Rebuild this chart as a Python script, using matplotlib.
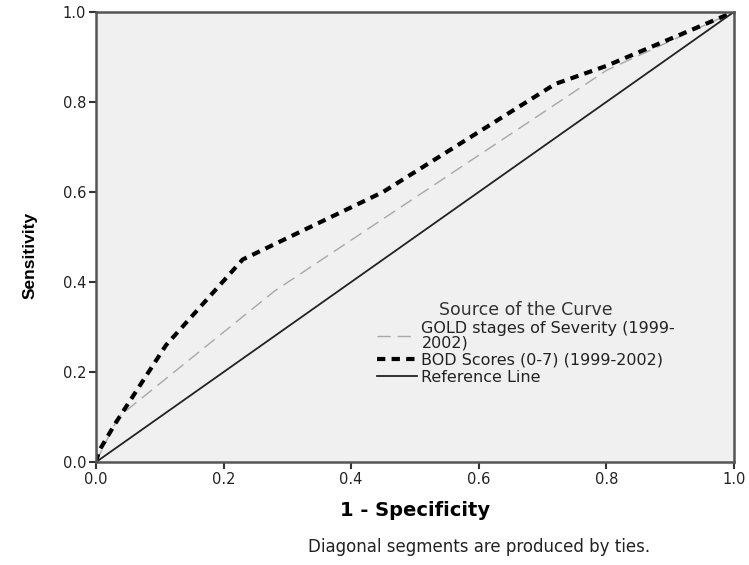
import matplotlib.pyplot as plt

plt.rcParams['font.family'] = ['DejaVu Sans']

# ROC curve points
gold_fpr = [0.0, 0.035, 0.28, 0.80, 1.0]
gold_tpr = [0.0, 0.10, 0.38, 0.87, 1.0]
bod_fpr = [0.0, 0.005, 0.03, 0.11, 0.23, 0.45, 0.72, 0.80, 1.0]
bod_tpr = [0.0, 0.025, 0.085, 0.26, 0.45, 0.60, 0.84, 0.88, 1.0]
ref_line = [0.0, 1.0]
ticks = [0.0, 0.2, 0.4, 0.6, 0.8, 1.0]

fig = plt.figure(figsize=(7.49, 5.65), dpi=100)
ax = fig.add_axes([0.128, 0.182, 0.852, 0.797])
ax.set_facecolor('#f0f0f0')

gold, = ax.plot(gold_fpr, gold_tpr, color='#a8a8a8', lw=1.0,
                dashes=(9.5, 5), label='GOLD stages of Severity (1999-\n2002)')
bod, = ax.plot(bod_fpr, bod_tpr, color='black', lw=3.0,
               dashes=(2, 1.5), label='BOD Scores (0-7) (1999-2002)')
ref, = ax.plot(ref_line, ref_line, color='#222222', lw=1.3, label='Reference Line')

ax.set_xlim(0, 1)
ax.set_ylim(0, 1)
ax.set_xticks(ticks)
ax.set_yticks(ticks)
ax.set_xticklabels([f'{t:.1f}' for t in ticks])
ax.set_yticklabels([f'{t:.1f}' for t in ticks])
ax.tick_params(direction='out', length=5, width=1.5, colors='#333333',
               labelsize=10.5, labelcolor='#222222', pad=2)
for s in ax.spines.values():
    s.set_color('#555555')
    s.set_linewidth(1.8)

ax.set_xlabel('1 - Specificity', fontsize=14, fontweight='bold', labelpad=10)
fig.text(0.040, 0.548, 'Sensitivity', rotation=90, fontsize=12.5,
         fontweight='bold', ha='center', va='center',
         family=['Liberation Sans', 'DejaVu Sans'])

leg = ax.legend(handles=[gold, bod, ref], title='Source of the Curve',
                loc='upper left', bbox_to_anchor=(0.43, 0.372), frameon=False,
                fontsize=11.5, title_fontsize=12.5, handlelength=2.5,
                handletextpad=0.3, labelspacing=0.15, borderaxespad=0)
leg.get_title().set_color('#333333')
for t in leg.get_texts():
    t.set_color('#222222')
    t.set_linespacing(0.9)

fig.text(0.64, 0.032, 'Diagonal segments are produced by ties.',
         fontsize=12, ha='center', va='center', color='#222222')

fig.savefig('out.png', dpi=100)
